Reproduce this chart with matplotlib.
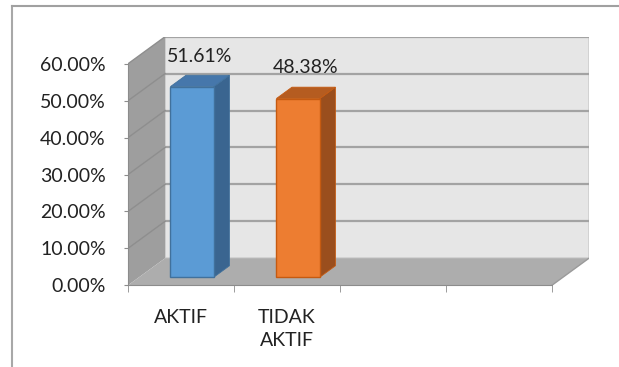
import numpy as np
import matplotlib.pyplot as plt
from matplotlib.patches import Polygon
from matplotlib.ticker import FuncFormatter

plt.rcParams['font.family'] = ['Lato', 'DejaVu Sans']

categories = ['AKTIF', 'TIDAK\nAKTIF', '', '']
values = [51.61, 48.38]
labels = ['51.61%', '48.38%']
front_colors = ['#5B9BD5', '#ED7D31']
top_colors = ['#4677AB', '#B55C20']
side_colors = ['#3A6590', '#9A4E1D']
edge_colors = ['#41719C', '#C55A11']
yticks = [0, 10, 20, 30, 40, 50, 60]

# depth offset of the 3d box, in data units
DX = 0.35
DY = 7.34
ymax = 60
xl, xr = -0.5, len(categories) - 0.5
bw = 0.41
d0, d1 = 0.3, 0.72

fig = plt.figure(figsize=(6.19, 3.67), dpi=100)
W, H = 619, 367
ax = fig.add_axes([128 / W, 81.7 / H, (589 - 128) / W, (330.3 - 81.7) / H])
ax.set_xlim(xl, xr + DX)
ax.set_ylim(0, ymax + DY)
ax.patch.set_visible(False)

# walls
ax.add_patch(Polygon([(xl + DX, DY), (xr + DX, DY), (xr + DX, ymax + DY), (xl + DX, ymax + DY)],
                     closed=True, fc='#E6E6E6', ec='#CFCFCF', lw=1.2, zorder=0))
ax.add_patch(Polygon([(xl, 0), (xl + DX, DY), (xl + DX, ymax + DY), (xl, ymax)],
                     closed=True, fc='#9E9E9E', ec='none', zorder=0))
ax.add_patch(Polygon([(xl, 0), (xr, 0), (xr + DX, DY), (xl + DX, DY)],
                     closed=True, fc='#ADADAD', ec='none', zorder=0.5))

# gridlines
for t in yticks[1:]:
    ax.plot([xl + DX, xr + DX], [t + DY, t + DY], color='#A3A3A3', lw=1.6, zorder=0.6)
    ax.plot([xl, xl + DX], [t, t + DY], color='#8E8E8E', lw=1.0, zorder=0.6)
ax.plot([xr, xr + DX], [0, DY], color='#9A9A9A', lw=1.0, zorder=0.6)

# bars
for i, v in enumerate(values):
    x0 = i - bw / 2 + d0 * DX
    y0 = d0 * DY
    ox, oy = (d1 - d0) * DX, (d1 - d0) * DY
    ax.bar(x0 + bw / 2, v, width=bw, bottom=y0, color=front_colors[i],
           edgecolor=edge_colors[i], lw=1.0, zorder=3)
    ax.add_patch(Polygon([(x0 + bw, y0), (x0 + bw + ox, y0 + oy), (x0 + bw + ox, y0 + v + oy), (x0 + bw, y0 + v)],
                         closed=True, fc=side_colors[i], ec=edge_colors[i], lw=0.6, zorder=2))
    ax.add_patch(Polygon([(x0, y0 + v), (x0 + bw, y0 + v), (x0 + bw + ox, y0 + v + oy), (x0 + ox, y0 + v + oy)],
                         closed=True, fc=top_colors[i], ec=edge_colors[i], lw=0.6, zorder=2))
    ax.text(i + 0.18, v + 10.5, labels[i], ha='center', va='center', fontsize=14, color='#222222', zorder=4)

# axes
for s in ['top', 'right']:
    ax.spines[s].set_visible(False)
ax.spines['left'].set_bounds(0, ymax)
ax.spines['bottom'].set_bounds(xl, xr)
ax.spines['left'].set_color('#8C8C8C')
ax.spines['bottom'].set_color('#8C8C8C')
ax.spines['left'].set_zorder(1)
ax.set_yticks(yticks)
ax.yaxis.set_major_formatter(FuncFormatter(lambda y, p: f'{y:.2f}%'))
ax.tick_params(axis='y', length=3, color='#8C8C8C', pad=13, labelsize=14, labelcolor='#222222')
ax.set_xticks(np.arange(len(categories)))
ax.set_xticklabels(categories, linespacing=1.4)
ax.set_xticks(np.arange(len(categories) + 1) - 0.5, minor=True)
ax.tick_params(axis='x', which='major', length=0, pad=17, labelsize=14, labelcolor='#222222')
ax.tick_params(axis='x', which='minor', length=5, color='#8C8C8C')

# outer frame
fig.add_artist(plt.Line2D([12 / W, 12 / W], [0, 1 - 6 / H], color='#A8A8A8', lw=1.5))
fig.add_artist(plt.Line2D([12 / W, 1], [1 - 6 / H, 1 - 6 / H], color='#A0A0A0', lw=1.5))

fig.savefig('out.png', dpi=100)
